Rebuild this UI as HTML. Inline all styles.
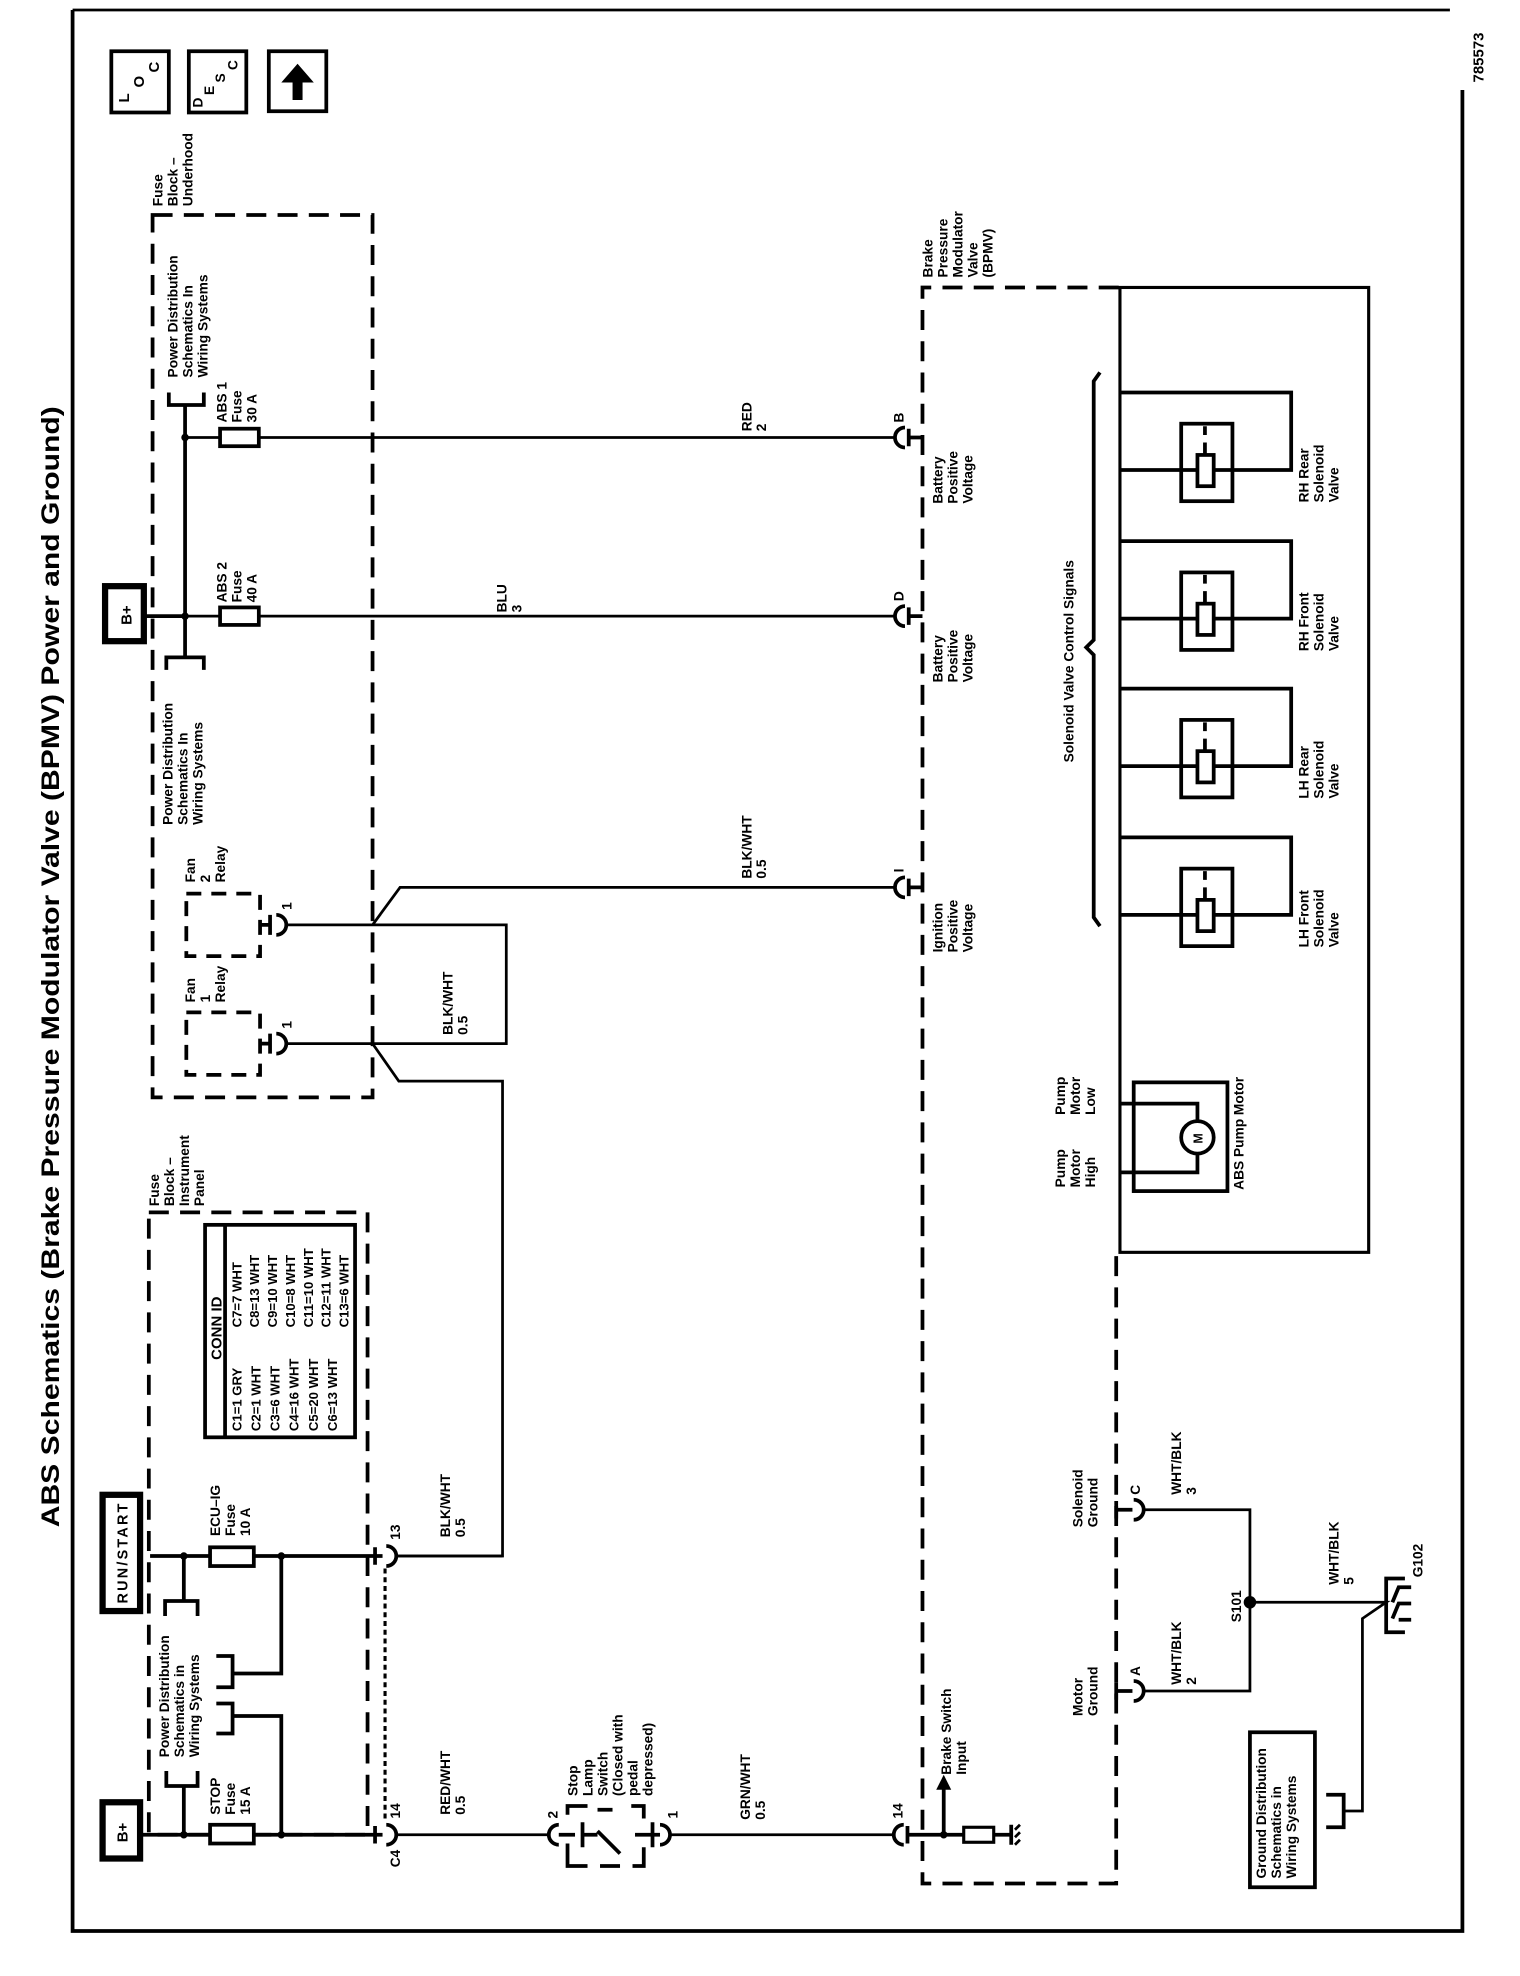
<!DOCTYPE html>
<html><head><meta charset="utf-8"><style>
html,body{margin:0;padding:0;background:#fff;}
svg{display:block;}
.t{font-family:"Liberation Sans",sans-serif;font-weight:bold;font-size:11px;fill:#000;}
.s{font-size:10.5px;}
.w{stroke:#000;stroke-width:2.2;fill:none;}
.k{stroke:#000;stroke-width:3;fill:none;}
.d{stroke:#000;stroke-width:3;fill:none;stroke-dasharray:16 9;}
</style></head><body>
<svg width="1520" height="1976" viewBox="0 0 1216 1581" xmlns="http://www.w3.org/2000/svg">
<rect width="1216" height="1581" fill="#fff"/>
<!-- border -->
<path class="k" d="M58 8 V1545 H1170 V72"/>
<path class="w" d="M58 8 H1160"/>
<text class="t" transform="translate(1187,66) rotate(-90)" style="font-size:12px">785573</text>
<!-- title -->
<text class="t" transform="translate(47,1222) rotate(-90)" style="font-size:20px" textLength="897" lengthAdjust="spacingAndGlyphs">ABS Schematics (Brake Pressure Modulator Valve (BPMV) Power and Ground)</text>
<!-- icons -->
<rect x="89" y="41" width="46" height="49" class="k"/>
<text class="t" transform="translate(103,82) rotate(-90)" style="font-size:12px">L</text>
<text class="t" transform="translate(115,70) rotate(-90)" style="font-size:12px">O</text>
<text class="t" transform="translate(127,58) rotate(-90)" style="font-size:12px">C</text>
<rect x="151" y="41" width="46" height="49" class="k"/>
<text class="t" transform="translate(162,86) rotate(-90)" style="font-size:11px">D</text>
<text class="t" transform="translate(171,76) rotate(-90)" style="font-size:11px">E</text>
<text class="t" transform="translate(180,66) rotate(-90)" style="font-size:11px">S</text>
<text class="t" transform="translate(190,56) rotate(-90)" style="font-size:11px">C</text>
<rect x="215" y="41" width="46" height="48" class="k"/>
<polygon points="238,51 251,66 242,66 242,80 234,80 234,66 225,66" fill="#000"/>

<!-- Fuse block underhood -->
<text class="t" transform="translate(130,165) rotate(-90)"><tspan x="0">Fuse</tspan><tspan x="0" dy="12">Block –</tspan><tspan x="0" dy="12">Underhood</tspan></text>
<rect x="122" y="172" width="176" height="706" class="d"/>
<text class="t" transform="translate(142,302) rotate(-90)"><tspan x="0">Power Distribution</tspan><tspan x="0" dy="12">Schematics In</tspan><tspan x="0" dy="12">Wiring Systems</tspan></text>
<path class="k" d="M135 314 V324 H163 V314"/>
<path class="k" d="M148 324 V526"/>
<path class="k" d="M133 536 V526 H163 V536"/>
<circle cx="148" cy="350" r="3" fill="#000"/><circle cx="148" cy="493" r="3" fill="#000"/>
<rect x="84" y="469" width="31" height="44" fill="#fff" stroke="#000" stroke-width="5"/>
<text class="t" transform="translate(105,500) rotate(-90)" style="font-size:12px">B+</text>
<path class="k" d="M115 493 H148"/>
<path class="w" d="M148 350 H716 M148 493 H716"/>
<rect x="176" y="343" width="31" height="14" fill="#fff" stroke="#000" stroke-width="3"/>
<rect x="176" y="486" width="31" height="14" fill="#fff" stroke="#000" stroke-width="3"/>
<text class="t" transform="translate(181,338) rotate(-90)"><tspan x="0">ABS 1</tspan><tspan x="0" dy="12">Fuse</tspan><tspan x="0" dy="12">30 A</tspan></text>
<text class="t" transform="translate(181,482) rotate(-90)"><tspan x="0">ABS 2</tspan><tspan x="0" dy="12">Fuse</tspan><tspan x="0" dy="12">40 A</tspan></text>
<text class="t" transform="translate(138,660) rotate(-90)"><tspan x="0">Power Distribution</tspan><tspan x="0" dy="12">Schematics In</tspan><tspan x="0" dy="12">Wiring Systems</tspan></text>
<!-- fan relays -->
<text class="t" transform="translate(156,706) rotate(-90)"><tspan x="0">Fan</tspan><tspan x="0" dy="12">2</tspan><tspan x="0" dy="12">Relay</tspan></text>
<rect x="149" y="715" width="59" height="50" class="d" style="stroke-dasharray:12 8"/>
<text class="t" transform="translate(156,802) rotate(-90)"><tspan x="0">Fan</tspan><tspan x="0" dy="12">1</tspan><tspan x="0" dy="12">Relay</tspan></text>
<rect x="149" y="810" width="59" height="50" class="d" style="stroke-dasharray:12 8"/>
<path class="k" d="M208 740 H216 M216 732 V748 M221 732 A8 8 0 0 1 221 748"/>
<path class="k" d="M208 835 H216 M216 827 V843 M221 827 A8 8 0 0 1 221 843"/>
<text class="t" transform="translate(233,728) rotate(-90)">1</text>
<text class="t" transform="translate(233,823) rotate(-90)">1</text>
<path class="w" d="M229 740 H405 V835 H229"/>
<path class="w" d="M298 740 L320 710 H716"/>
<path class="w" d="M298 835 L319 865 H402 V1245 H317"/>
<text class="t" transform="translate(362,828) rotate(-90)"><tspan x="0">BLK/WHT</tspan><tspan x="0" dy="12">0.5</tspan></text>
<text class="t" transform="translate(601,345) rotate(-90)"><tspan x="0">RED</tspan><tspan x="0" dy="12">2</tspan></text>
<text class="t" transform="translate(405,490) rotate(-90)"><tspan x="0">BLU</tspan><tspan x="0" dy="12">3</tspan></text>
<text class="t" transform="translate(601,703) rotate(-90)"><tspan x="0">BLK/WHT</tspan><tspan x="0" dy="12">0.5</tspan></text>

<!-- BPMV -->
<text class="t" transform="translate(746,222) rotate(-90)"><tspan x="0">Brake</tspan><tspan x="0" dy="12">Pressure</tspan><tspan x="0" dy="12">Modulator</tspan><tspan x="0" dy="12">Valve</tspan><tspan x="0" dy="12">(BPMV)</tspan></text>
<path class="d" d="M895 230 H738 V1507 H893 V1002"/>
<rect x="896" y="230" width="199" height="772" class="k" style="stroke-width:2.5"/>
<!-- connectors B D I -->
<g class="k">
<path d="M724 342 A8 8 0 0 0 724 358 M727 343 V357 M727 350 H738"/>
<path d="M724 485 A8 8 0 0 0 724 501 M727 486 V500 M727 493 H738"/>
<path d="M724 702 A8 8 0 0 0 724 718 M727 703 V717 M727 710 H738"/>
</g>
<text class="t" transform="translate(723,338) rotate(-90)">B</text>
<text class="t" transform="translate(723,481) rotate(-90)">D</text>
<text class="t" transform="translate(723,698) rotate(-90)">I</text>
<text class="t" transform="translate(754,403) rotate(-90)"><tspan x="0">Battery</tspan><tspan x="0" dy="12">Positive</tspan><tspan x="0" dy="12">Voltage</tspan></text>
<text class="t" transform="translate(754,546) rotate(-90)"><tspan x="0">Battery</tspan><tspan x="0" dy="12">Positive</tspan><tspan x="0" dy="12">Voltage</tspan></text>
<text class="t" transform="translate(754,762) rotate(-90)"><tspan x="0">Ignition</tspan><tspan x="0" dy="12">Positive</tspan><tspan x="0" dy="12">Voltage</tspan></text>
<!-- brace -->
<path class="k" d="M880 298 L875 305 V512 L869 518 L875 524 V734 L880 741"/>
<text class="t" transform="translate(859,610) rotate(-90)">Solenoid Valve Control Signals</text>
<!-- solenoid valves -->
<g id="v1">
<path class="k" d="M896 314 H1033 V376 H896"/>
<rect x="945" y="339" width="41" height="62" fill="none" stroke="#000" stroke-width="3"/>
<rect x="958" y="364" width="13" height="25" fill="#fff" stroke="#000" stroke-width="3"/>
<path class="k" d="M964 341 V348 M964 354 V364"/>
</g>
<use href="#v1" y="119"/>
<use href="#v1" y="237"/>
<use href="#v1" y="356"/>
<text class="t" transform="translate(1047,402) rotate(-90)"><tspan x="0">RH Rear</tspan><tspan x="0" dy="12">Solenoid</tspan><tspan x="0" dy="12">Valve</tspan></text>
<text class="t" transform="translate(1047,521) rotate(-90)"><tspan x="0">RH Front</tspan><tspan x="0" dy="12">Solenoid</tspan><tspan x="0" dy="12">Valve</tspan></text>
<text class="t" transform="translate(1047,639) rotate(-90)"><tspan x="0">LH Rear</tspan><tspan x="0" dy="12">Solenoid</tspan><tspan x="0" dy="12">Valve</tspan></text>
<text class="t" transform="translate(1047,758) rotate(-90)"><tspan x="0">LH Front</tspan><tspan x="0" dy="12">Solenoid</tspan><tspan x="0" dy="12">Valve</tspan></text>
<!-- pump motor -->
<rect x="907" y="866" width="75" height="87" fill="none" stroke="#000" stroke-width="3"/>
<path class="k" d="M896 883 H958 V897 M896 938 H958 V923"/>
<circle cx="958" cy="910" r="13" fill="#fff" stroke="#000" stroke-width="3"/>
<text class="t" transform="translate(962,915) rotate(-90)" style="font-size:10px">M</text>
<text class="t" transform="translate(852,892) rotate(-90)"><tspan x="0">Pump</tspan><tspan x="0" dy="12">Motor</tspan><tspan x="0" dy="12">Low</tspan></text>
<text class="t" transform="translate(852,950) rotate(-90)"><tspan x="0">Pump</tspan><tspan x="0" dy="12">Motor</tspan><tspan x="0" dy="12">High</tspan></text>
<text class="t" transform="translate(995,952) rotate(-90)">ABS Pump Motor</text>

<!-- grounds -->
<g class="k">
<path d="M893 1208 H906 M893 1201 V1215 M907 1200 A8 8 0 0 1 907 1216"/>
<path d="M893 1353 H906 M893 1346 V1360 M907 1345 A8 8 0 0 1 907 1361"/>
</g>
<text class="t" transform="translate(912,1196) rotate(-90)">C</text>
<text class="t" transform="translate(912,1341) rotate(-90)">A</text>
<text class="t" transform="translate(866,1222) rotate(-90)"><tspan x="0">Solenoid</tspan><tspan x="0" dy="12">Ground</tspan></text>
<text class="t" transform="translate(866,1373) rotate(-90)"><tspan x="0">Motor</tspan><tspan x="0" dy="12">Ground</tspan></text>
<path class="w" d="M915 1208 H1000 V1353 H915"/>
<circle cx="1000" cy="1282" r="5" fill="#000"/>
<path class="w" d="M1000 1282 H1109 L1090 1295 V1449 H1075"/>
<path class="k" d="M1061 1436 H1075 V1462 H1061"/>
<path class="k" d="M1124 1263 H1109 V1306 H1124"/>
<path class="k" d="M1129 1270 L1119 1270 L1114 1282 M1129 1283 L1119 1283 L1114 1295 M1129 1296 L1119 1296"/>
<text class="t" transform="translate(1138,1262) rotate(-90)">G102</text>
<text class="t" transform="translate(945,1196) rotate(-90)"><tspan x="0">WHT/BLK</tspan><tspan x="0" dy="12">3</tspan></text>
<text class="t" transform="translate(945,1348) rotate(-90)"><tspan x="0">WHT/BLK</tspan><tspan x="0" dy="12">2</tspan></text>
<text class="t" transform="translate(993,1298) rotate(-90)">S101</text>
<text class="t" transform="translate(1071,1268) rotate(-90)"><tspan x="0">WHT/BLK</tspan><tspan x="0" dy="12">5</tspan></text>
<rect x="1000" y="1386" width="52" height="124" fill="none" stroke="#000" stroke-width="3"/>
<text class="t" transform="translate(1013,1503) rotate(-90)"><tspan x="0">Ground Distribution</tspan><tspan x="0" dy="12">Schematics in</tspan><tspan x="0" dy="12">Wiring Systems</tspan></text>

<!-- brake switch input -->
<path class="k" d="M723 1460 A8 8 0 0 0 723 1476 M726 1461 V1475 M726 1468 H776"/>
<text class="t" transform="translate(722,1455) rotate(-90)">14</text>
<circle cx="755" cy="1468" r="3" fill="#000"/>
<path class="k" d="M755 1468 V1430"/>
<polygon points="755,1420 749,1432 761,1432" fill="#000"/>
<text class="t" transform="translate(761,1420) rotate(-90)"><tspan x="0">Brake Switch</tspan><tspan x="0" dy="12">Input</tspan></text>
<rect x="771" y="1462" width="24" height="12" fill="#fff" stroke="#000" stroke-width="2.5"/>
<path class="k" d="M795 1468 H808 M809 1460 V1476"/>
<path class="w" d="M812 1464 L816 1460 M812 1470 L816 1466 M812 1476 L816 1472"/>

<!-- Fuse block IP -->
<text class="t" transform="translate(127,965) rotate(-90)"><tspan x="0">Fuse</tspan><tspan x="0" dy="12">Block –</tspan><tspan x="0" dy="12">Instrument</tspan><tspan x="0" dy="12">Panel</tspan></text>
<rect x="119" y="970" width="175" height="498" class="d"/>
<rect x="164" y="980" width="120" height="170" fill="#fff" stroke="#000" stroke-width="3"/>
<path class="k" d="M180 980 V1150"/>
<text class="t" transform="translate(177,1088) rotate(-90)" style="font-size:12px">CONN ID</text>
<text class="t s" transform="translate(193,1145) rotate(-90)"><tspan x="0">C1=1 GRY</tspan><tspan x="0" dy="15.3">C2=1 WHT</tspan><tspan x="0" dy="15.3">C3=6 WHT</tspan><tspan x="0" dy="15.3">C4=16 WHT</tspan><tspan x="0" dy="15.3">C5=20 WHT</tspan><tspan x="0" dy="15.3">C6=13 WHT</tspan></text>
<text class="t s" transform="translate(193,1062) rotate(-90)"><tspan x="0">C7=7 WHT</tspan><tspan x="0" dy="14.3">C8=13 WHT</tspan><tspan x="0" dy="14.3">C9=10 WHT</tspan><tspan x="0" dy="14.3">C10=8 WHT</tspan><tspan x="0" dy="14.3">C11=10 WHT</tspan><tspan x="0" dy="14.3">C12=11 WHT</tspan><tspan x="0" dy="14.3">C13=6 WHT</tspan></text>
<!-- RUN/START -->
<rect x="82" y="1196" width="30" height="93" fill="#fff" stroke="#000" stroke-width="5"/>
<text class="t" transform="translate(102,1283) rotate(-90)" style="font-size:11.5px" textLength="80">RUN/START</text>
<path class="k" d="M120 1245 H306"/>
<circle cx="147" cy="1245" r="3" fill="#000"/><circle cx="225" cy="1245" r="3" fill="#000"/>
<rect x="168" y="1238" width="35" height="15" fill="#fff" stroke="#000" stroke-width="3"/>
<text class="t" transform="translate(176,1229) rotate(-90)"><tspan x="0">ECU–IG</tspan><tspan x="0" dy="12">Fuse</tspan><tspan x="0" dy="12">10 A</tspan></text>
<path class="k" d="M147 1245 V1281 M132 1293 V1281 H158 V1293"/>
<path class="k" d="M225 1245 V1339 H186 M173 1325 H186 V1350 H173"/>
<path class="k" d="M173 1363 H186 V1387 H173 M186 1373 H225 V1468"/>
<text class="t" transform="translate(135,1406) rotate(-90)"><tspan x="0">Power Distribution</tspan><tspan x="0" dy="12">Schematics in</tspan><tspan x="0" dy="12">Wiring Systems</tspan></text>
<path class="k" d="M133 1417 V1429 H158 V1417 M147 1429 V1468"/>
<rect x="82" y="1442" width="30" height="45" fill="#fff" stroke="#000" stroke-width="5"/>
<text class="t" transform="translate(102,1474) rotate(-90)" style="font-size:12px">B+</text>
<path class="k" d="M112 1468 H306"/>
<circle cx="147" cy="1468" r="3" fill="#000"/><circle cx="225" cy="1468" r="3" fill="#000"/>
<rect x="168" y="1460" width="35" height="15" fill="#fff" stroke="#000" stroke-width="3"/>
<text class="t" transform="translate(176,1452) rotate(-90)"><tspan x="0">STOP</tspan><tspan x="0" dy="12">Fuse</tspan><tspan x="0" dy="12">15 A</tspan></text>
<!-- connectors 13, 14 -->
<path class="k" d="M300 1238 V1252 M309 1237 A8 8 0 0 1 309 1253"/>
<path class="k" d="M300 1461 V1475 M309 1460 A8 8 0 0 1 309 1476"/>
<path d="M308 1255 V1458" stroke="#000" stroke-width="2.5" stroke-dasharray="4 3"/>
<text class="t" transform="translate(320,1232) rotate(-90)">13</text>
<text class="t" transform="translate(320,1455) rotate(-90)">14</text>
<text class="t" transform="translate(320,1494) rotate(-90)">C4</text>
<path class="w" d="M317 1245 H402"/>
<text class="t" transform="translate(360,1230) rotate(-90)"><tspan x="0">BLK/WHT</tspan><tspan x="0" dy="12">0.5</tspan></text>
<path class="w" d="M317 1468 H438"/>
<text class="t" transform="translate(360,1452) rotate(-90)"><tspan x="0">RED/WHT</tspan><tspan x="0" dy="12">0.5</tspan></text>
<!-- stop lamp switch -->
<path class="k" d="M447 1460 A8 8 0 0 0 447 1476 M447 1468 H460 M466 1458 V1478 M466 1468 H478"/>
<path class="k" d="M478 1465 L496 1483"/>
<path class="k" d="M508 1468 H528 M522 1458 V1478 M528 1460 A8 8 0 0 1 528 1476"/>
<path d="M470 1445 H454 V1452 M454 1475 V1493 H470 M480 1493 H496 M506 1493 H515 V1478 M515 1455 V1445 H505 M478 1448 H490" stroke="#000" stroke-width="3" fill="none"/>
<text class="t" transform="translate(446,1455) rotate(-90)">2</text>
<text class="t" transform="translate(542,1455) rotate(-90)">1</text>
<text class="t" transform="translate(462,1437) rotate(-90)"><tspan x="0">Stop</tspan><tspan x="0" dy="12">Lamp</tspan><tspan x="0" dy="12">Switch</tspan><tspan x="0" dy="12">(Closed with</tspan><tspan x="0" dy="12">pedal</tspan><tspan x="0" dy="12">depressed)</tspan></text>
<path class="w" d="M536 1468 H715"/>
<text class="t" transform="translate(600,1456) rotate(-90)"><tspan x="0">GRN/WHT</tspan><tspan x="0" dy="12">0.5</tspan></text>
</svg>
</body></html>
